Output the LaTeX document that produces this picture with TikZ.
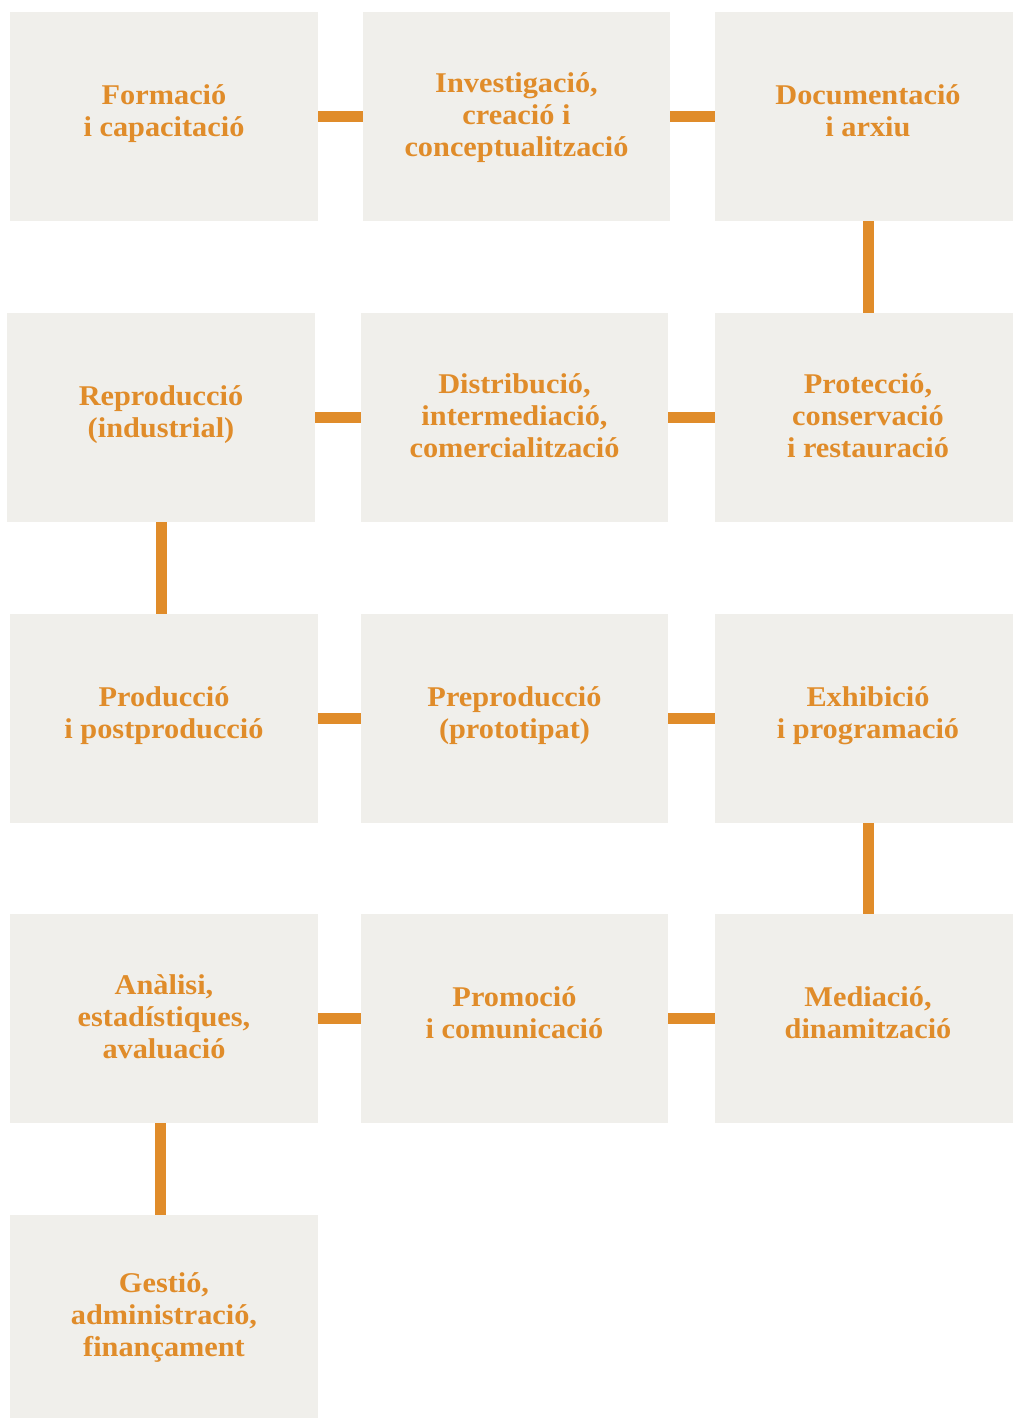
\documentclass[tikz,border=0pt]{standalone}
\usepackage{fontspec}
\setmainfont{Liberation Serif}[FakeStretch=1.06]
\definecolor{boxfill}{HTML}{F0EFEB}
\definecolor{accent}{HTML}{E08C2A}
\begin{document}
\begin{tikzpicture}[x=0.5pt,y=-0.5pt,
  box/.style={fill=boxfill, draw=none, minimum height=104.5pt, inner sep=0pt},
  txt/.style={align=center, text=accent, inner sep=0pt,
    font=\fontsize{14.3}{16}\selectfont\bfseries, execute at end node=\strut},
  two/.style={yshift=0.6pt},
  three/.style={yshift=-1.4pt},
  wA/.style={minimum width=154pt},
  wB/.style={minimum width=153.5pt},
  wC/.style={minimum width=149pt},
  link/.style={draw=accent, line width=5.5pt}]
\useasboundingbox (0,0) rectangle (1014,1418);
\fill[white] (0,0) rectangle (1014,1418);
% row 1
\node[box,wA] (a1) at (164,116.5) {};
\node[box,wB] (a2) at (516.5,116.5) {};
\node[box,wC] (a3) at (864,116.5) {};
% row 2
\node[box,wA] (b1) at (161,417.5) {};
\node[box,wB] (b2) at (514.5,417.5) {};
\node[box,wC] (b3) at (864,417.5) {};
% row 3
\node[box,wA] (c1) at (164,718.5) {};
\node[box,wB] (c2) at (514.5,718.5) {};
\node[box,wC] (c3) at (864,718.5) {};
% row 4
\node[box,wA] (d1) at (164,1018.5) {};
\node[box,wB] (d2) at (514.5,1018.5) {};
\node[box,wC] (d3) at (864,1018.5) {};
% row 5
\node[box,wA,minimum height=101.5pt] (e1) at (164,1316.5) {};
% texts
\node[txt,two] (a1t) at (a1.center) {Formació\\i capacitació};
\node[txt,three] (a2t) at (a2.center) {Investigació,\\creació i\\conceptualització};
\node[txt,two,xshift=2pt] (a3t) at (a3.center) {Documentació\\i arxiu};
\node[txt,two] (b1t) at (b1.center) {Reproducció\\(industrial)};
\node[txt,three] (b2t) at (b2.center) {Distribució,\\intermediació,\\comercialització};
\node[txt,three,xshift=2pt] (b3t) at (b3.center) {Protecció,\\conservació\\i restauració};
\node[txt,two] (c1t) at (c1.center) {Producció\\i postproducció};
\node[txt,two] (c2t) at (c2.center) {Preproducció\\(prototipat)};
\node[txt,two,xshift=2pt] (c3t) at (c3.center) {Exhibició\\i programació};
\node[txt,three] (d1t) at (d1.center) {Anàlisi,\\estadístiques,\\avaluació};
\node[txt,two] (d2t) at (d2.center) {Promoció\\i comunicació};
\node[txt,two,xshift=2pt] (d3t) at (d3.center) {Mediació,\\dinamització};
\node[txt,three] (e1t) at (e1.center) {Gestió,\\administració,\\finançament};
% connectors
\draw[link] (a1.east) -- (a2.west);
\draw[link] (a2.east) -- (a3.west);
\draw[link] ([xshift=2pt]a3.south) -- ([xshift=2pt]b3.north);
\draw[link] (b3.west) -- (b2.east);
\draw[link] (b2.west) -- (b1.east);
\draw[link] (b1.south) -- (b1.south |- c1.north);
\draw[link] (c1.east) -- (c2.west);
\draw[link] (c2.east) -- (c3.west);
\draw[link] ([xshift=2pt]c3.south) -- ([xshift=2pt]d3.north);
\draw[link] (d3.west) -- (d2.east);
\draw[link] (d2.west) -- (d1.east);
\draw[link] ([xshift=-2pt]d1.south) -- ([xshift=-2pt]e1.north);
\end{tikzpicture}
\end{document}
